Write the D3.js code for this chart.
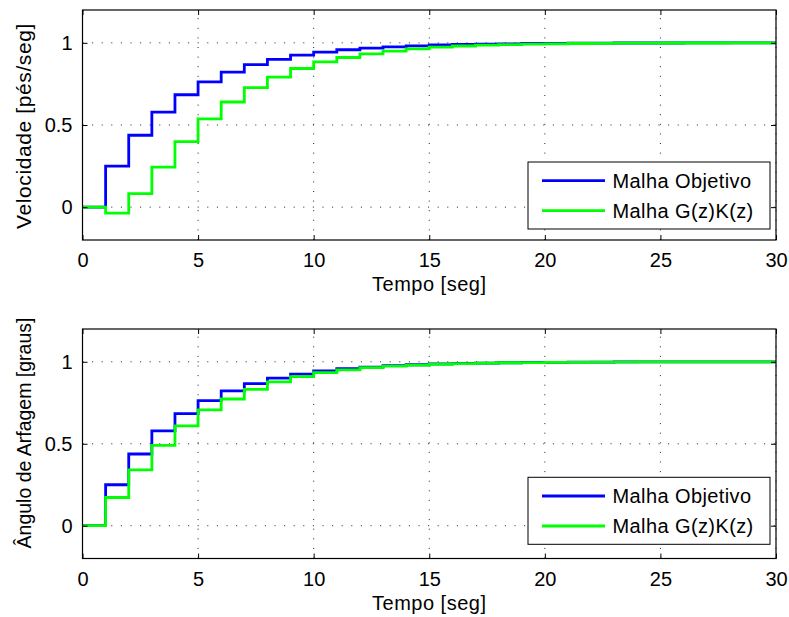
<!DOCTYPE html>
<html>
<head>
<meta charset="utf-8">
<script src="https://d3js.org/d3.v7.min.js"></script>
<style>
  body { margin: 0; background: #fff; }
  text { font-family: "Liberation Sans", Arial, Helvetica, sans-serif; }
</style>
</head>
<body>
<div id="chart"></div>
<script>
//Width and height
var w = 789;
var h = 617;

//Time axis (samples k = 0..30)
var tempo = d3.range(0, 31);
var xTicks = [0, 5, 10, 15, 20, 25, 30];
var yTicks = [0, 0.5, 1];

//Malha Objetivo (same reference response in both panels)
var objetivo = [0, 0.25, 0.4375, 0.578, 0.684, 0.763, 0.822, 0.867, 0.9, 0.925,
    0.944, 0.958, 0.968, 0.976, 0.982, 0.987, 0.99, 0.992, 0.994, 0.996,
    0.997, 0.998, 0.998, 0.999, 0.999, 0.999, 1, 1, 1, 1, 1];

//Malha G(z)K(z) - velocidade
var gkVelocidade = [0, -0.037, 0.082, 0.244, 0.399, 0.537, 0.64, 0.728, 0.791, 0.844,
    0.884, 0.911, 0.933, 0.95, 0.963, 0.974, 0.981, 0.986, 0.989, 0.992,
    0.994, 0.996, 0.997, 0.998, 0.998, 0.999, 0.999, 0.999, 1, 1, 1];

//Malha G(z)K(z) - angulo de arfagem
var gkArfagem = [0, 0.172, 0.341, 0.49, 0.609, 0.707, 0.773, 0.832, 0.877, 0.91,
    0.934, 0.951, 0.964, 0.973, 0.98, 0.985, 0.989, 0.992, 0.994, 0.995,
    0.996, 0.997, 0.998, 0.998, 0.999, 0.999, 0.999, 1, 1, 1, 1];

var seriesNames = ["Malha Objetivo", "Malha G(z)K(z)"];
var seriesColors = ["#0000ff", "#00ff00"];

//Create SVG element
var svg = d3.select("#chart")
    .append("svg")
    .attr("width", w)
    .attr("height", h);

function drawPanel(cfg) {
    var x = d3.scaleLinear().domain([0, 30]).range([cfg.left, cfg.right]);
    var y = d3.scaleLinear().domain([-0.2, 1.2]).range([cfg.bottom, cfg.top]);

    var g = svg.append("g");

    //white background
    g.append("rect")
        .attr("x", cfg.left).attr("y", cfg.top)
        .attr("width", cfg.right - cfg.left)
        .attr("height", cfg.bottom - cfg.top)
        .attr("fill", "#fff");

    //dotted grid
    g.selectAll(".vgrid")
        .data(xTicks)
        .enter()
        .append("line")
        .attr("x1", function(d) { return x(d); })
        .attr("x2", function(d) { return x(d); })
        .attr("y1", cfg.bottom)
        .attr("y2", cfg.top)
        .attr("stroke", "#222")
        .attr("stroke-width", 1)
        .attr("stroke-dasharray", "1,8.6");

    g.selectAll(".hgrid")
        .data(yTicks)
        .enter()
        .append("line")
        .attr("y1", function(d) { return y(d); })
        .attr("y2", function(d) { return y(d); })
        .attr("x1", cfg.left)
        .attr("x2", cfg.right)
        .attr("stroke", "#222")
        .attr("stroke-width", 1)
        .attr("stroke-dasharray", "1,8.6");

    //step lines
    var line = d3.line()
        .curve(d3.curveStepAfter)
        .x(function(d, i) { return x(tempo[i]); })
        .y(function(d) { return y(d); });

    [objetivo, cfg.gk].forEach(function(s, i) {
        g.append("path")
            .attr("d", line(s))
            .attr("fill", "none")
            .attr("stroke", seriesColors[i])
            .attr("stroke-width", 2.8)
            .attr("stroke-linejoin", "miter");
    });

    //axes, ticks pointing inward
    var xAxis = d3.axisBottom(x).tickValues(xTicks).tickSizeInner(-5).tickSizeOuter(0).tickPadding(13);
    var yAxis = d3.axisLeft(y).tickValues(yTicks).tickSizeInner(-5).tickSizeOuter(0).tickPadding(10)
        .tickFormat(function(d) { return d === 0.5 ? "0.5" : d; });

    var ax = g.append("g")
        .attr("transform", "translate(0," + cfg.bottom + ")")
        .call(xAxis);
    var ay = g.append("g")
        .attr("transform", "translate(" + cfg.left + ",0)")
        .call(yAxis);
    var axT = g.append("g")
        .attr("transform", "translate(0," + cfg.top + ")")
        .call(d3.axisTop(x).tickValues(xTicks).tickSizeInner(-5).tickSizeOuter(0).tickFormat(""));
    var ayR = g.append("g")
        .attr("transform", "translate(" + cfg.right + ",0)")
        .call(d3.axisRight(y).tickValues(yTicks).tickSizeInner(-5).tickSizeOuter(0).tickFormat(""));

    [ax, ay, axT, ayR].forEach(function(a) {
        a.select(".domain").remove();
        a.selectAll("line").attr("stroke", "#000").attr("stroke-width", 1);
        a.selectAll("text")
            .attr("fill", "#000")
            .style("font-size", "20px")
            .style("font-family", "'Liberation Sans', Arial, Helvetica, sans-serif");
    });

    //box
    g.append("rect")
        .attr("x", cfg.left).attr("y", cfg.top)
        .attr("width", cfg.right - cfg.left)
        .attr("height", cfg.bottom - cfg.top)
        .attr("fill", "none")
        .attr("stroke", "#000")
        .attr("stroke-width", 1.2);

    //axis titles
    g.append("text")
        .attr("x", (cfg.left + cfg.right) / 2)
        .attr("y", cfg.bottom + 51)
        .attr("text-anchor", "middle")
        .style("font-size", "20px")
        .style("letter-spacing", "0.5px")
        .text("Tempo [seg]");

    g.append("text")
        .attr("transform", "translate(31," + cfg.ylabelY + ") rotate(-90)")
        .attr("text-anchor", "middle")
        .style("font-size", cfg.ylabelSize)
        .style("letter-spacing", cfg.ylabelSpacing)
        .text(cfg.ylabel);

    //legend
    var lx = 528, lw = cfg.right - 6 - lx, lh = 67;
    var lg = g.append("g").attr("transform", "translate(" + lx + "," + cfg.legendTop + ")");
    lg.append("rect")
        .attr("width", lw).attr("height", lh)
        .attr("fill", "#fff")
        .attr("stroke", "#000")
        .attr("stroke-width", 1);
    seriesNames.forEach(function(name, i) {
        var ly = 18.7 + i * 30;
        lg.append("line")
            .attr("x1", 14).attr("x2", 77)
            .attr("y1", ly).attr("y2", ly)
            .attr("stroke", seriesColors[i])
            .attr("stroke-width", 2.8);
        lg.append("text")
            .attr("x", 84.5)
            .attr("y", ly + 7.4)
            .style("font-size", "20px")
            .style("letter-spacing", "0.4px")
            .text(name);
    });
}

drawPanel({left: 82.5, right: 776, top: 10, bottom: 240, gk: gkVelocidade,
    ylabel: "Velocidade [pés/seg]", ylabelY: 126, ylabelSize: "21px", ylabelSpacing: "0.6px",
    legendTop: 162});
drawPanel({left: 82.5, right: 776, top: 329, bottom: 558.5, gk: gkArfagem,
    ylabel: "Ângulo de Arfagem [graus]", ylabelY: 433, ylabelSize: "19.5px", ylabelSpacing: "0px",
    legendTop: 477.3});
</script>
</body>
</html>
